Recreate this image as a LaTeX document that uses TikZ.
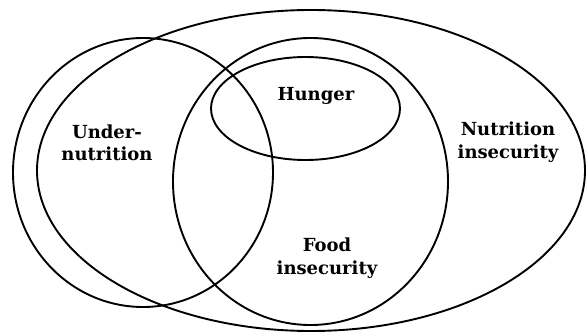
\documentclass[tikz,border=0pt]{standalone}
\usepackage{fontspec}
\setmainfont{DejaVu Serif}
\usetikzlibrary{shapes.geometric}
\begin{document}
\begin{tikzpicture}[x=1pt,y=-1pt,
  ring/.style={draw=black, line width=1.9pt, ellipse, inner sep=0pt},
  lbl/.style={font=\fontsize{18}{22.5}\selectfont\bfseries, align=center, inner sep=0pt}]
\useasboundingbox (0,0) rectangle (587,332);
\node[ring, minimum width=548pt, minimum height=321pt] (nutri) at (311,170.5) {};
\node[ring, minimum width=260pt, minimum height=269pt] (under) at (143,172.5) {};
\node[ring, minimum width=275pt, minimum height=287pt] (food) at (310.5,181.5) {};
\node[ring, minimum width=189pt, minimum height=103pt] (hunger) at (305.5,108.5) {};
\node[lbl] (tunder) at (107,143) {Under-\\nutrition};
\node[lbl] (thunger) at (316,96) {Hunger};
\node[lbl] (tnutri) at (508,142) {Nutrition\\insecurity};
\node[lbl] (tfood) at (327,258) {Food\\insecurity};
\end{tikzpicture}
\end{document}
